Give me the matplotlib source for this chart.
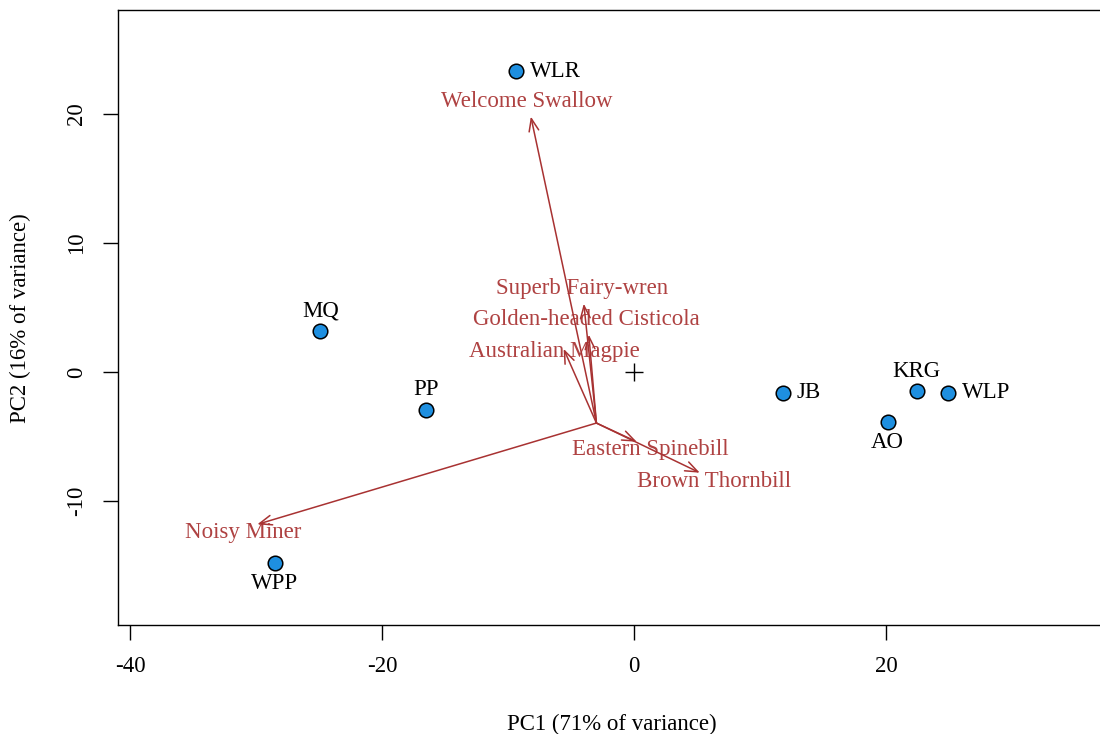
import numpy as np
import matplotlib.pyplot as plt

# site scores (PC1, PC2)
sites = ['WLR', 'MQ', 'PP', 'WPP', 'JB', 'KRG', 'WLP', 'AO']
site_x = [-9.4, -24.9, -16.5, -28.5, 11.8, 22.4, 24.9, 20.1]
site_y = [23.3, 3.2, -2.9, -14.8, -1.6, -1.5, -1.6, -3.9]
site_pos = ['right', 'above', 'above', 'below', 'right', 'above', 'right', 'below']

# species loadings (arrow tips), arrows start from the common origin
species = ['Welcome Swallow', 'Superb Fairy-wren', 'Golden-headed Cisticola',
           'Australian Magpie', 'Eastern Spinebill', 'Brown Thornbill', 'Noisy Miner']
sp_x = [-8.2, -4.0, -3.6, -5.6, 0.2, 5.2, -29.9]
sp_y = [19.8, 5.3, 2.9, 1.8, -5.4, -7.8, -11.8]
lab_x = [-8.5, -4.1, -3.8, -6.3, 1.3, 6.3, -31.0]
lab_y = [21.0, 6.5, 4.1, 1.6, -6.0, -8.5, -12.4]
origin = (-3.0, -3.95)

plt.rcParams['font.family'] = 'Liberation Serif'
arrow_col = '#A83232'
fs = 16.5

fig = plt.figure(figsize=(11, 7.34), dpi=100)
ax = fig.add_axes([118/1100, 1 - 625/734, (1112 - 118)/1100, (625 - 10)/734])
ax.set_xlim(-40.95, 37.9)
ax.set_ylim(-19.6, 28.06)

for i in range(len(species)):
    ax.annotate('', xy=(sp_x[i], sp_y[i]), xytext=origin,
                arrowprops=dict(arrowstyle='->,head_length=0.9,head_width=0.35',
                                color=arrow_col, lw=1.1, shrinkA=0, shrinkB=0))
    ax.text(lab_x[i], lab_y[i], species[i], color=arrow_col, fontsize=fs,
            ha='center', va='center', alpha=0.92)

ax.scatter(site_x, site_y, s=110, c='#1E8FE0', edgecolors='black', linewidths=1.1, zorder=3)
for n, x, y, p in zip(sites, site_x, site_y, site_pos):
    if p == 'right':
        ax.annotate(n, (x, y), xytext=(10, 0), textcoords='offset points',
                    ha='left', va='center', fontsize=fs)
    elif p == 'above':
        ax.annotate(n, (x, y), xytext=(0, 14.5), textcoords='offset points',
                    ha='center', va='center', fontsize=fs)
    else:
        ax.annotate(n, (x, y), xytext=(0, -14.5), textcoords='offset points',
                    ha='center', va='center', fontsize=fs)

ax.plot([0], [0], marker='+', color='black', markersize=13, mew=1)

ax.set_xticks([-40, -20, 0, 20])
ax.set_yticks([-10, 0, 10, 20])
ax.set_xticklabels(['-40', '-20', '0', '20'])
ax.set_yticklabels(['-10', '0', '10', '20'], rotation=90, va='center')
ax.tick_params(direction='out', length=11, width=1, labelsize=fs, pad=11)
for s in ax.spines.values():
    s.set_linewidth(1)

fig.text(612/1100, 1 - 724/734, 'PC1 (71% of variance)', ha='center', va='center', fontsize=fs)
fig.text(20/1100, 1 - 318/734, 'PC2 (16% of variance)', ha='center', va='center',
         rotation=90, fontsize=fs)

fig.savefig('out.png', dpi=100)
